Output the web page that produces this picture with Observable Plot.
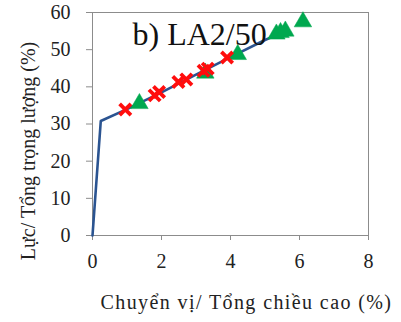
<!DOCTYPE html>
<html>
<head>
<meta charset="utf-8">
<script src="https://cdn.jsdelivr.net/npm/d3@7"></script>
<script src="https://cdn.jsdelivr.net/npm/@observablehq/plot@0.6"></script>
<style>
  html, body { margin: 0; padding: 0; background: #fff; }
  #chart svg { display: block; }
  #chart svg, #chart svg text { font-family: "Liberation Serif", "DejaVu Serif", serif !important; }
  #chart .x-title text { letter-spacing: 1.4px; }
  #chart .y-title text { letter-spacing: 0px; }
</style>
</head>
<body>
<div id="chart"></div>
<script>
// Load–displacement envelope (blue line)
const curveX = [0, 0.24, 1.0, 2.0, 3.0, 4.0, 5.0, 5.65];
const curveY = [0, 30.8, 34.0, 38.5, 43.3, 48.0, 52.6, 55.2];

// Red cross markers
const crossX = [0.95, 1.80, 1.93, 2.49, 2.72, 3.22, 3.34, 3.90];
const crossY = [33.9, 37.7, 38.6, 41.3, 42.0, 44.3, 44.9, 47.9];

// Green triangle markers
const triX = [1.36, 3.27, 4.21, 5.33, 5.45, 5.59, 6.10];
const triY = [35.5, 43.7, 48.7, 54.2, 54.6, 55.0, 57.5];

const xTicks = [0, 2, 4, 6, 8];
const yTicks = [0, 10, 20, 30, 40, 50, 60];

const title = "b) LA2/50";
const xLabel = "Chuyển vị/ Tổng chiều cao (%)";
const yLabel = "Lực/ Tổng trọng lượng (%)";

const curve = curveX.map((x, i) => ({x, y: curveY[i]}));
const crosses = crossX.map((x, i) => ({x, y: crossY[i]}));
const tris = triX.map((x, i) => ({x, y: triY[i]}));

const serif = "Liberation Serif";

const chart = Plot.plot({
  width: 401,
  height: 322,
  marginLeft: 92,
  marginRight: 33,
  marginTop: 12,
  marginBottom: 87,
  style: {fontSize: "19px", color: "#222", background: "#fff"},
  x: {domain: [0, 8], ticks: xTicks, label: null},
  y: {domain: [0, 60], ticks: yTicks, label: null},
  marks: [
    Plot.frame({stroke: "#8c8c8c", strokeWidth: 1}),
    Plot.axisX({ticks: xTicks, tickSize: 5, tickPadding: 13, stroke: "#8c8c8c", fill: "#222", fontFamily: serif, fontSize: 20, label: null}),
    Plot.axisY({ticks: yTicks, tickSize: 6, tickPadding: 16, stroke: "#8c8c8c", fill: "#222", fontFamily: serif, fontSize: 20, label: null}),
    Plot.line(curve, {x: "x", y: "y", stroke: "#2b5491", strokeWidth: 2.6}),
    Plot.dot(tris, {x: "x", y: "y", symbol: "triangle", r: 6.5, fill: "#00a84f", stroke: "#00a84f", strokeWidth: 0.5}),
    Plot.dot(crosses, {x: "x", y: "y", symbol: "times", r: 5.2, stroke: "#ff0d0d", strokeWidth: 3.8}),
    Plot.text([title], {frameAnchor: "top-left", dx: 40, dy: 22, textAnchor: "start", lineAnchor: "middle", fontFamily: serif, fontSize: 32, fill: "#111"}),
    Plot.text([xLabel], {frameAnchor: "bottom", dx: 16, dy: 67, textAnchor: "middle", lineAnchor: "middle", fontFamily: serif, fontSize: 20, fill: "#222", className: "x-title"}),
    Plot.text([yLabel], {frameAnchor: "left", dx: -64, dy: 27, rotate: -90, textAnchor: "middle", lineAnchor: "middle", fontFamily: serif, fontSize: 20, fill: "#222", className: "y-title"})
  ]
});

document.getElementById("chart").appendChild(chart);
</script>
</body>
</html>
